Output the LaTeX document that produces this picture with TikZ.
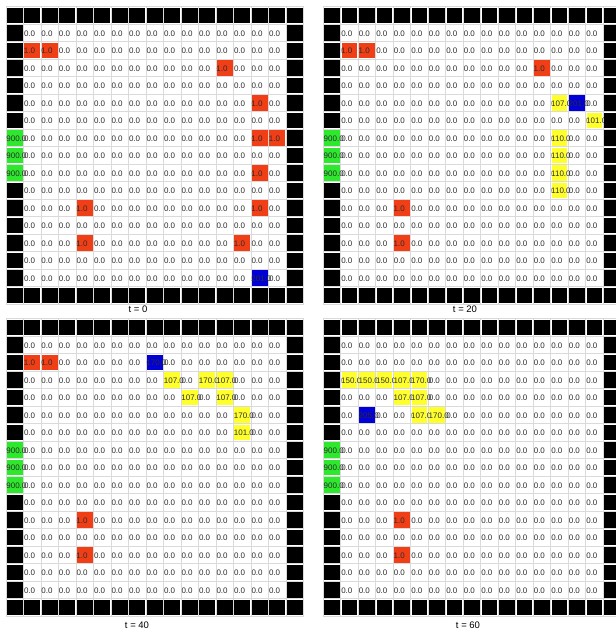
\documentclass[tikz,border=0pt]{standalone}
\usepackage{fontspec}
\setmainfont{Liberation Sans}
\definecolor{cellred}{RGB}{240,62,22}
\definecolor{cellgreen}{RGB}{45,232,45}
\definecolor{cellyellow}{RGB}{255,255,45}
\definecolor{cellblue}{RGB}{0,0,215}
\definecolor{gridgray}{RGB}{218,218,218}
\definecolor{txtgray}{RGB}{45,45,45}
\tikzset{
  gridline/.style={draw=gridgray, line width=0.9pt},
  celltext/.style={anchor=base west, inner sep=0pt, outer sep=0pt,
    font=\fontsize{8}{9}\selectfont, text=txtgray},
  wallcell/.style={fill=black},
  panellabel/.style={inner sep=0pt, font=\fontsize{9.5}{11}\selectfont, text=black}
}
\newcommand\drawpanel[7]{%
  \begin{scope}[shift={(#2,#3)}]
    \foreach \i in {0,...,17} {
      \draw[gridline] (17.5*\i,0) -- (17.5*\i,297.5);
      \draw[gridline] (0,17.5*\i) -- (297.5,17.5*\i);
    }
    \foreach \r in {1,...,15} {
      \foreach \c in {1,...,15} {
        \node[celltext] (#1-\c-\r) at (17.5*\c+0.5, 17.5*\r+12) {0.0};
      }
    }
    \foreach \c/\r/\col/\txt in {#4} {
      \fill[\col] (17.5*\c+0.9, 17.5*\r+0.9) rectangle (17.5*\c+16.6, 17.5*\r+16.6);
      \node[celltext] (#1-s-\c-\r) at (17.5*\c+0.4, 17.5*\r+12) {\txt};
    }
    \foreach \c in {0,...,16} {
      \fill[wallcell] (17.5*\c+0.9, 0.9) rectangle (17.5*\c+16.6, 16.6);
      \fill[wallcell] (17.5*\c+0.9, 280.9) rectangle (17.5*\c+16.6, 296.6);
    }
    \foreach \r in {1,...,6,10,11,...,15} {
      \fill[wallcell] (0.9, 17.5*\r+0.9) rectangle (16.6, 17.5*\r+16.6);
    }
    \foreach \r in {1,...,15} {
      \fill[wallcell] (280.9, 17.5*\r+0.9) rectangle (296.6, 17.5*\r+16.6);
    }
  \end{scope}
  \node[panellabel] (#1-label) at (#5,#6) {#7};
}
\begin{document}
\begin{tikzpicture}[x=1pt,y=-1pt]
\useasboundingbox (0,0) rectangle (616,633);
\fill[white] (0,0) rectangle (616,633);
\drawpanel{tl}{6}{6.7}{1/2/cellred/1.0, 2/2/cellred/1.0, 12/3/cellred/1.0,
  14/5/cellred/1.0, 0/7/cellgreen/900.0, 14/7/cellred/1.0, 15/7/cellred/1.0,
  0/8/cellgreen/900.0, 0/9/cellgreen/900.0, 14/9/cellred/1.0, 4/11/cellred/1.0,
  14/11/cellred/1.0, 4/13/cellred/1.0, 13/13/cellred/1.0, 14/15/cellblue/201.0}{138}{309.5}{t = 0}
\drawpanel{tr}{323.3}{6.7}{1/2/cellred/1.0, 2/2/cellred/1.0, 12/3/cellred/1.0,
  13/5/cellyellow/107.0, 14/5/cellblue/201.0, 15/6/cellyellow/101.0,
  0/7/cellgreen/900.0, 13/7/cellyellow/110.0, 0/8/cellgreen/900.0, 13/8/cellyellow/110.0,
  0/9/cellgreen/900.0, 13/9/cellyellow/110.0, 13/10/cellyellow/110.0,
  4/11/cellred/1.0, 4/13/cellred/1.0}{465}{309.5}{t = 20}
\drawpanel{bl}{6}{318.7}{1/2/cellred/1.0, 2/2/cellred/1.0, 8/2/cellblue/170.0,
  9/3/cellyellow/107.0, 11/3/cellyellow/170.0, 12/3/cellyellow/107.0,
  10/4/cellyellow/107.0, 12/4/cellyellow/107.0, 13/5/cellyellow/170.0,
  13/6/cellyellow/101.0, 0/7/cellgreen/900.0, 0/8/cellgreen/900.0, 0/9/cellgreen/900.0,
  4/11/cellred/1.0, 4/13/cellred/1.0}{137}{625}{t = 40}
\drawpanel{br}{323.3}{318.7}{1/3/cellyellow/150.0, 2/3/cellyellow/150.0, 3/3/cellyellow/150.0,
  4/3/cellyellow/107.0, 5/3/cellyellow/170.0, 4/4/cellyellow/107.0, 5/4/cellyellow/107.0,
  2/5/cellblue/205.0, 5/5/cellyellow/107.0, 6/5/cellyellow/170.0,
  0/7/cellgreen/900.0, 0/8/cellgreen/900.0, 0/9/cellgreen/900.0,
  4/11/cellred/1.0, 4/13/cellred/1.0}{468}{625}{t = 60}
\end{tikzpicture}
\end{document}
